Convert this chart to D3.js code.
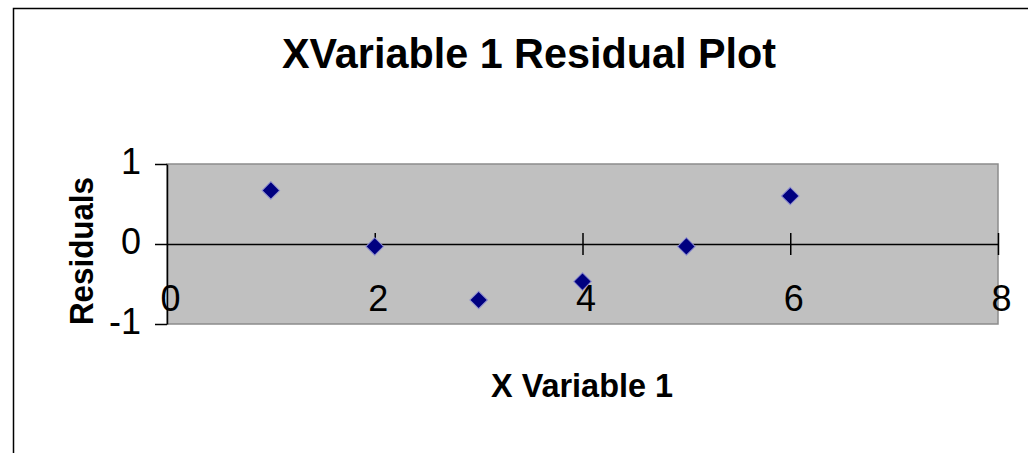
<!DOCTYPE html>
<html><head><meta charset="utf-8">
<script src="https://cdn.jsdelivr.net/npm/d3@7"></script>
<style>body{margin:0;background:#fff}svg{display:block}</style>
</head><body>
<script>
const xValues = [1, 2, 3, 4, 5, 6];
const residuals = [0.67, -0.03, -0.70, -0.47, -0.03, 0.60];
const xTicks = [0, 2, 4, 6, 8];
const yTicks = [-1, 0, 1];
const titleText = "XVariable 1  Residual Plot";
const xTitle = "X Variable 1";
const yTitle = "Residuals";

const W = 1028, H = 453;
const svg = d3.select("body").append("svg").attr("width", W).attr("height", H);
const font = "'Liberation Sans', Arial, sans-serif";

// outer chart frame
svg.append("path").attr("d", `M13.5,${H} V8.5 H${W}`).attr("fill", "none").attr("stroke", "#000").attr("stroke-width", 1.5);

const x = d3.scaleLinear().domain([0, 8]).range([167, 998]);
const y = d3.scaleLinear().domain([-1, 1]).range([324, 164]);

// plot area
svg.append("rect").attr("x", x(0)).attr("y", y(1)).attr("width", x(8) - x(0)).attr("height", y(-1) - y(1))
  .attr("fill", "#c0c0c0").attr("stroke", "#8c8c8c").attr("stroke-width", 1.5);

// y axis
const yAxis = svg.append("g").attr("transform", `translate(${x(0)},0)`)
  .call(d3.axisLeft(y).tickValues(yTicks).tickSize(12).tickSizeOuter(0).tickPadding(14).tickFormat(d3.format("d")));
yAxis.select(".domain").attr("stroke", "#000").attr("stroke-width", 1.5);
yAxis.selectAll(".tick line").attr("stroke", "#000").attr("stroke-width", 1.5);
yAxis.selectAll(".tick text").attr("font-family", font).attr("font-size", 36).attr("fill", "#000").attr("dy", "0.25em")
  .text(d => d < 0 ? "-" + Math.abs(d) : d);

// x axis at y=0 with cross ticks
const xAxis = svg.append("g").attr("transform", `translate(0,${y(0)})`)
  .call(d3.axisBottom(x).tickValues(xTicks).tickSize(0).tickSizeOuter(0).tickFormat(d3.format("d")));
xAxis.select(".domain").attr("stroke", "#000").attr("stroke-width", 1.5);
xAxis.selectAll(".tick line").attr("y1", -11).attr("y2", 11).attr("stroke", "#000").attr("stroke-width", 1.5)
  .filter(d => d === 0).remove();
xAxis.selectAll(".tick text").attr("font-family", font).attr("font-size", 36).attr("fill", "#000")
  .attr("dy", 0).attr("y", 67).attr("dx", 3);

// markers (square diamonds)
const diamond = d3.symbol().type(d3.symbolSquare).size(155);
svg.append("g").selectAll("path").data(xValues).join("path")
  .attr("transform", (d, i) => `translate(${x(d)},${y(residuals[i])}) rotate(45)`)
  .attr("d", diamond).attr("fill", "#000080").attr("stroke", "#9090d0").attr("stroke-width", 1);

// titles
svg.append("text").attr("x", 282).attr("y", 68).attr("textLength", 494).attr("lengthAdjust", "spacingAndGlyphs")
  .attr("font-family", font).attr("font-weight", "bold").attr("font-size", 43).attr("fill", "#000").text(titleText);
svg.append("text").attr("x", 491).attr("y", 397).attr("textLength", 182).attr("lengthAdjust", "spacingAndGlyphs")
  .attr("font-family", font).attr("font-weight", "bold").attr("font-size", 34).attr("fill", "#000").text(xTitle);
svg.append("text").attr("transform", "translate(93,325) rotate(-90)").attr("textLength", 148).attr("lengthAdjust", "spacingAndGlyphs")
  .attr("font-family", font).attr("font-weight", "bold").attr("font-size", 33).attr("fill", "#000").text(yTitle);
</script>
</body></html>
